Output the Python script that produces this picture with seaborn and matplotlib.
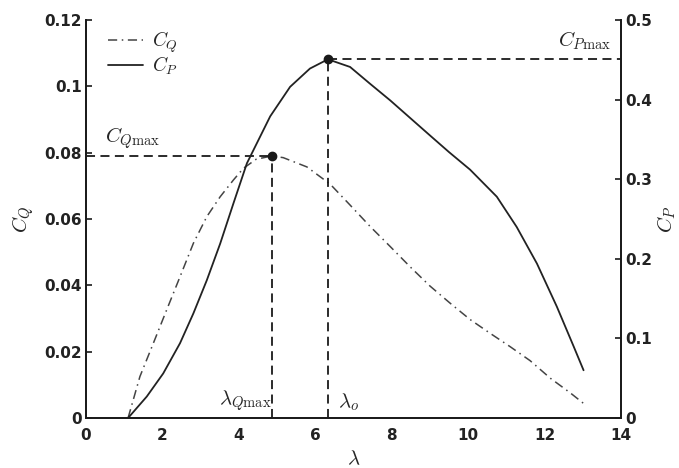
import numpy as np
import pandas as pd
import matplotlib
matplotlib.use("Agg")
import matplotlib.pyplot as plt
import seaborn as sns
from matplotlib.lines import Line2D

# --- data ---
lam_q = [1.10, 1.41, 1.76, 2.11, 2.46, 2.81, 3.16, 3.51, 3.86, 4.12, 4.45, 4.86, 5.16, 5.78, 6.39, 6.91, 7.43, 7.96, 8.48, 9.00, 9.53, 10.05, 10.58, 11.10, 11.62, 12.15, 12.67, 13.02]
cq    = [0.0000, 0.0125, 0.0225, 0.0326, 0.0426, 0.0527, 0.0607, 0.0667, 0.0718, 0.0753, 0.0780, 0.0790, 0.0785, 0.0757, 0.0705, 0.0642, 0.0578, 0.0517, 0.0456, 0.0398, 0.0346, 0.0297, 0.0255, 0.0215, 0.0173, 0.0120, 0.0076, 0.0044]

lam_p = [1.10, 1.59, 2.02, 2.46, 2.81, 3.16, 3.51, 3.86, 4.21, 4.82, 5.34, 5.86, 6.33, 6.91, 7.43, 7.96, 8.48, 9.00, 9.50, 10.05, 10.75, 11.27, 11.80, 12.32, 12.76, 13.02]
cp    = [0.000, 0.027, 0.056, 0.094, 0.1315, 0.173, 0.219, 0.270, 0.320, 0.379, 0.416, 0.439, 0.4506, 0.441, 0.420, 0.399, 0.377, 0.355, 0.334, 0.312, 0.278, 0.240, 0.194, 0.140, 0.090, 0.060]

lam_qmax, cq_max = 4.86, 0.0790
lam_o, cp_max = 6.33, 0.4506

x_ticks = [0, 2, 4, 6, 8, 10, 12, 14]
cq_ticks = [0, 0.02, 0.04, 0.06, 0.08, 0.1, 0.12]
cq_tick_labels = ["0", "0.02", "0.04", "0.06", "0.08", "0.1", "0.12"]
cp_ticks = [0, 0.1, 0.2, 0.3, 0.4, 0.5]
cp_tick_labels = ["0", "0.1", "0.2", "0.3", "0.4", "0.5"]

sns.set_theme(style="white")
plt.rcParams['font.family'] = ['DejaVu Sans']
plt.rcParams['mathtext.fontset'] = 'cm'

fig = plt.figure(figsize=(6.79, 4.68), dpi=100)
ax = fig.add_axes([0.1267, 0.1068, 0.7879, 0.8505])
ax2 = ax.twinx()

df_q = pd.DataFrame({"lam": lam_q, "cq": cq})
df_p = pd.DataFrame({"lam": lam_p, "cp": cp})

dashdot = (0, (6, 3, 1, 3))
sns.lineplot(data=df_q, x="lam", y="cq", ax=ax, color="#444444", lw=1.1,
             linestyle=dashdot, legend=False)
sns.lineplot(data=df_p, x="lam", y="cp", ax=ax2, color="#222222", lw=1.3, legend=False)

# reference lines
ref = dict(ls=(0, (5, 3)), color="k", lw=1.3)
ax.plot([0, lam_qmax], [cq_max, cq_max], **ref)
ax.plot([lam_qmax, lam_qmax], [0, cq_max], **ref)
ax.plot([lam_qmax], [cq_max], 'o', color='k', ms=6)
ax2.plot([lam_o, 14], [cp_max, cp_max], **ref)
ax2.plot([lam_o, lam_o], [0, cp_max], **ref)
ax2.plot([lam_o], [cp_max], 'o', color='k', ms=6)

ax.set_xlim(0, 14)
ax.set_ylim(0, 0.12)
ax2.set_ylim(0, 0.5)
ax.set_xticks(x_ticks)
ax.set_xticklabels([str(t) for t in x_ticks])
ax.set_yticks(cq_ticks)
ax.set_yticklabels(cq_tick_labels)
ax2.set_yticks(cp_ticks)
ax2.set_yticklabels(cp_tick_labels)

for a in (ax, ax2):
    a.tick_params(direction='in', length=4, width=1.2, labelsize=11, colors='k')
    a.tick_params(axis='x', pad=7)
    a.tick_params(axis='y', pad=3)
    for lab in a.get_xticklabels() + a.get_yticklabels():
        lab.set_fontweight('bold')
        lab.set_color('#222222')
    for s in ['left', 'bottom', 'right']:
        a.spines[s].set_color('k')
        a.spines[s].set_linewidth(1.3)
    a.spines['top'].set_visible(False)
    a.grid(False)

ax.set_xlabel(r"$\lambda$", fontsize=15, labelpad=4)
ax.set_ylabel(r"$C_Q$", fontsize=15, labelpad=6)
ax2.set_ylabel(r"$C_P$", fontsize=15, labelpad=2)

ax.text(0.5, 0.0805, r"$C_{Q\mathrm{max}}$", fontsize=15, ha='left', va='bottom')
ax2.text(13.75, 0.46, r"$C_{P\mathrm{max}}$", fontsize=15, ha='right', va='bottom')
ax.text(4.85, 0.0015, r"$\lambda_{Q\mathrm{max}}$", fontsize=15, ha='right', va='bottom')
ax.text(6.6, 0.0015, r"$\lambda_o$", fontsize=15, ha='left', va='bottom')

handles = [Line2D([], [], color="#444444", lw=1.1, ls=dashdot),
           Line2D([], [], color="#222222", lw=1.3)]
ax.legend(handles, [r"$C_Q$", r"$C_P$"], loc='upper left', bbox_to_anchor=(0.015, 1.01),
          frameon=False, fontsize=14, handlelength=1.8, handletextpad=0.5,
          labelspacing=0.0, borderaxespad=0.3)

fig.savefig("out.png", dpi=100)
